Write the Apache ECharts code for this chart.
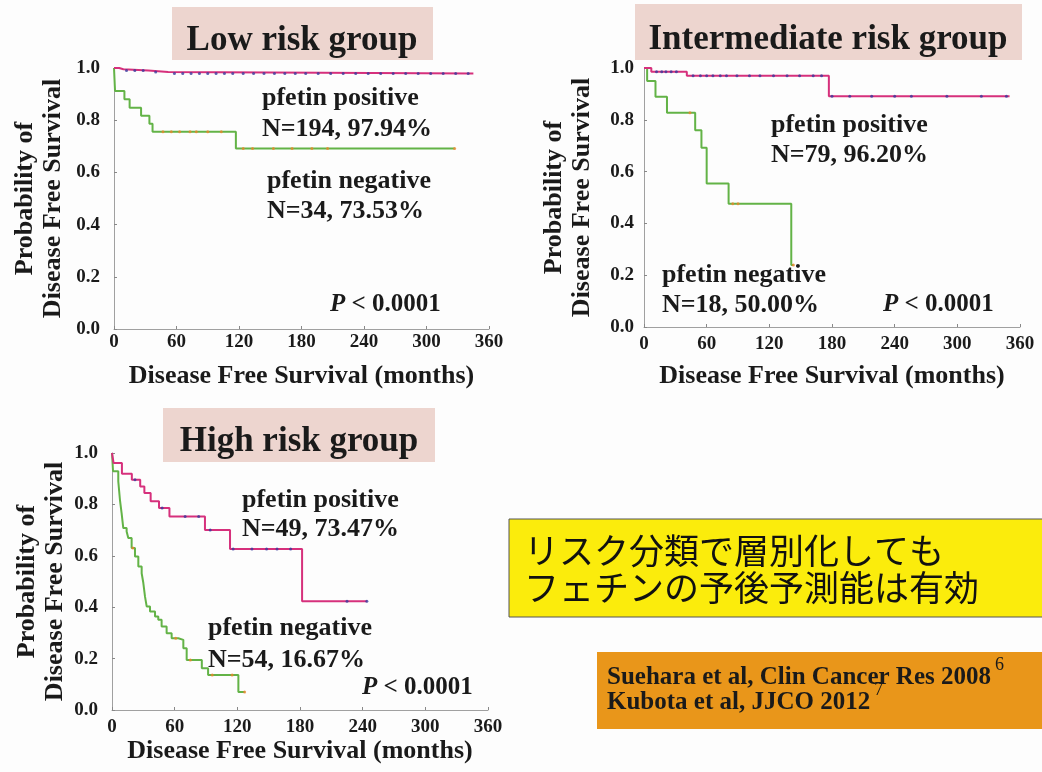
<!DOCTYPE html>
<html><head><meta charset="utf-8">
<script src="https://cdn.jsdelivr.net/npm/echarts@6/dist/echarts.min.js"></script>
<style>html,body{margin:0;padding:0;background:#fdfdfd}#c{width:1042px;height:772px}</style>
</head><body><div id="c"></div>
<script>
// ---------- data ----------
const panelTitles = ['Low risk group', 'Intermediate risk group', 'High risk group'];
const xAxisName = 'Disease Free Survival (months)';
const yAxisName = 'Probability of\nDisease Free Survival';

// Kaplan-Meier steps: [month, survival]
const lowPos = [[0,1],[5,0.995],[9,0.99],[33,0.985],[52,0.979],[345,0.979]];
const lowNeg = [[0,1],[1,0.912],[10,0.88],[15,0.848],[26,0.817],[34,0.786],[37,0.756],[117,0.692],[327,0.692]];
const midPos = [[0,1],[7,0.986],[41,0.97],[177,0.891],[350,0.891]];
const midNeg = [[0,1],[3,0.95],[11,0.889],[22,0.827],[49,0.76],[55,0.692],[60,0.554],[81,0.476],[141,0.239],[143,0.239]];
const highPos = [[0,1],[1.5,0.961],[9.5,0.919],[19,0.896],[27,0.87],[31,0.844],[37,0.812],[45,0.786],[55,0.753],[89,0.70],[113,0.626],[182,0.423],[244,0.423]];
const highNeg = [[0,1],[1,0.929],[6,0.89],[7.6,0.818],[9.2,0.766],[10.8,0.708],[14,0.695],[15.6,0.669],[18.8,0.63],[22,0.597],[25.2,0.558],[28.4,0.532],[30,0.494],[31.6,0.441],[33.2,0.403],[36.4,0.383],[41.2,0.364],[44.3,0.351],[47.5,0.325],[52.3,0.299],[57.1,0.279],[63.5,0.273],[68.3,0.24],[71.5,0.195],[86,0.162],[92,0.136],[121,0.07],[127,0.07]];

// censoring times (months)
const lowPosCens = [12,20,28,40,58,66,74,82,90,98,106,114,124,134,144,154,164,174,184,196,208,220,232,244,256,268,280,292,304,316,328,340];
const lowNegCens = [47,55,63,73,79,90,103,124,133,153,171,190,205,327];
const midPosCens = [12,17,21,26,31,47,54,60,66,73,79,89,101,111,124,137,149,162,170,180,197,218,240,256,290,323,347];
const midNegCens = [44,85,90,143];
const highPosCens = [22,48,70,83,94,116,134,148,158,171,225,244];
const highNegCens = [20,61,75,96,115,127];

const annotations = [
  ['pfetin positive', 262, 98], ['N=194, 97.94%', 262, 129],
  ['pfetin negative', 267, 181], ['N=34, 73.53%', 267, 211],
  ['pfetin positive', 771, 125], ['N=79, 96.20%', 771, 155],
  ['pfetin negative', 662, 275], ['N=18, 50.00%', 662, 305],
  ['pfetin positive', 242, 500], ['N=49, 73.47%', 242, 529],
  ['pfetin negative', 208, 628], ['N=54, 16.67%', 208, 660]
];
const pTexts = [[330, 305], [883, 305], [362, 688]];
const jpLines = ['リスク分類で層別化しても', 'フェチンの予後予測能は有効'];
const refLines = ['Suehara et al, Clin Cancer Res 2008', 'Kubota et al, JJCO 2012'];
const refSups = ['6', '7'];

// ---------- chart ----------
const SERIF = '"Liberation Serif","Times New Roman",serif';
const POS = '#d6307c', NEG = '#63b347', POSDOT = '#3a3a9c', NEGDOT = '#e8862a';

function survAt(curve, t) {
  let s = curve[0][1];
  for (const p of curve) { if (p[0] <= t) s = p[1]; else break; }
  return s;
}
const cens = (curve, times) => times.map(t => [t, survAt(curve, t)]);

const grids = [
  {left:114, top:68, width:375, height:261},
  {left:644, top:68, width:376, height:259},
  {left:112, top:453, width:376, height:257}
];
const xNameGap = [34, 36, 28];
const xLabelMargin = [4, 8, 8];
const yNameGap = [47, 48, 43];
const yLabelMargin = [14, 10, 14];

const xAxes = grids.map((g,i) => ({
  gridIndex:i, type:'value', min:0, max:360, interval:60,
  name:xAxisName, nameLocation:'middle', nameGap:xNameGap[i],
  nameTextStyle:{fontFamily:SERIF, fontWeight:'bold', fontSize:26, color:'#1a1a1a'},
  axisLine:{show:true, lineStyle:{color:'#a0a0a0', width:1}},
  axisTick:{show:true, length:3, inside:true, lineStyle:{color:'#888'}},
  axisLabel:{fontFamily:SERIF, fontWeight:'bold', fontSize:19, color:'#1a1a1a', margin:xLabelMargin[i]},
  splitLine:{show:false}
}));
const yAxes = grids.map((g,i) => ({
  gridIndex:i, type:'value', min:0, max:1, interval:0.2,
  name:yAxisName, nameLocation:'middle', nameGap:yNameGap[i],
  nameTextStyle:{fontFamily:SERIF, fontWeight:'bold', fontSize:26, lineHeight:28, color:'#1a1a1a', align:'center'},
  axisLine:{show:true, lineStyle:{color:'#a0a0a0', width:1}},
  axisTick:{show:true, length:3, inside:true, lineStyle:{color:'#888'}},
  axisLabel:{fontFamily:SERIF, fontWeight:'bold', fontSize:19, color:'#1a1a1a', margin:yLabelMargin[i],
    formatter: v => v.toFixed(1)},
  splitLine:{show:false}
}));

const curves = [[lowPos, lowNeg, lowPosCens, lowNegCens],[midPos, midNeg, midPosCens, midNegCens],[highPos, highNeg, highPosCens, highNegCens]];
const series = [];
curves.forEach((c,i) => {
  series.push({type:'line', step:'end', xAxisIndex:i, yAxisIndex:i, data:c[1], showSymbol:false, lineStyle:{color:NEG, width:2}, z:2});
  series.push({type:'line', step:'end', xAxisIndex:i, yAxisIndex:i, data:c[0], showSymbol:false, lineStyle:{color:POS, width:2}, z:3});
  series.push({type:'scatter', xAxisIndex:i, yAxisIndex:i, data:cens(c[1], c[3]), symbolSize:3, itemStyle:{color:NEGDOT}, z:4});
  series.push({type:'scatter', xAxisIndex:i, yAxisIndex:i, data:cens(c[0], c[2]), symbolSize:3, itemStyle:{color:POSDOT}, z:4});
});

const titleBoxes = [[172,7,261,53,302,41],[635,4,387,56,828,40],[163,408,272,54,299,442]];
const graphic = [];
titleBoxes.forEach((b,i) => {
  graphic.push({type:'rect', shape:{x:b[0], y:b[1], width:b[2], height:b[3]}, style:{fill:'#edd5cf'}, z:0});
  graphic.push({type:'text', x:b[4], y:b[5], style:{text:panelTitles[i], font:'bold 35px '+SERIF, fill:'#1a1a1a', align:'center', verticalAlign:'middle'}, z:5});
});
annotations.forEach(a => graphic.push({type:'text', x:a[1], y:a[2], style:{text:a[0], font:'bold 26px '+SERIF, fill:'#1a1a1a', verticalAlign:'middle'}, z:5}));
pTexts.forEach(p => graphic.push({type:'text', x:p[0], y:p[1], style:{text:'{i|P} < 0.0001', font:'bold 25px '+SERIF, fill:'#1a1a1a', verticalAlign:'middle',
  rich:{i:{fontStyle:'italic', fontWeight:'bold', fontSize:25, fontFamily:SERIF, fill:'#1a1a1a'}}}, z:5}));
// yellow box
graphic.push({type:'rect', shape:{x:509, y:519, width:540, height:98}, style:{fill:'#fbec0c', stroke:'#555', lineWidth:1}, z:0});
jpLines.forEach((t,i) => graphic.push({type:'text', x:524, y:551 + i*37, style:{text:t, font:'35px "Noto Sans CJK JP"', fill:'#111', verticalAlign:'middle'}, z:5}));
// orange box with references and superscripts placed after measured text
graphic.push({type:'rect', shape:{x:597, y:652, width:450, height:77}, style:{fill:'#e9961a'}, z:0});
const refFont = 'bold 25px ' + SERIF;
const ctx = document.createElement('canvas').getContext('2d');
ctx.font = refFont;
refLines.forEach((t,i) => {
  const y = 678 + i*25;
  graphic.push({type:'text', x:607, y:y, style:{text:t, font:refFont, fill:'#1a1a1a', verticalAlign:'middle'}, z:5});
  const w = ctx.measureText(t).width;
  graphic.push({type:'text', x:607 + w + 4, y:y - 13, style:{text:refSups[i], font:'18px '+SERIF, fill:'#1a1a1a', verticalAlign:'middle'}, z:5});
});

const chart = echarts.init(document.getElementById('c'), null, {renderer:'canvas'});
chart.setOption({
  backgroundColor:'#fdfdfd',
  animation:false,
  grid: grids.map(g => Object.assign({outerBoundsMode:'none', containLabel:false}, g)),
  xAxis:xAxes, yAxis:yAxes, series, graphic
});
</script></body></html>
